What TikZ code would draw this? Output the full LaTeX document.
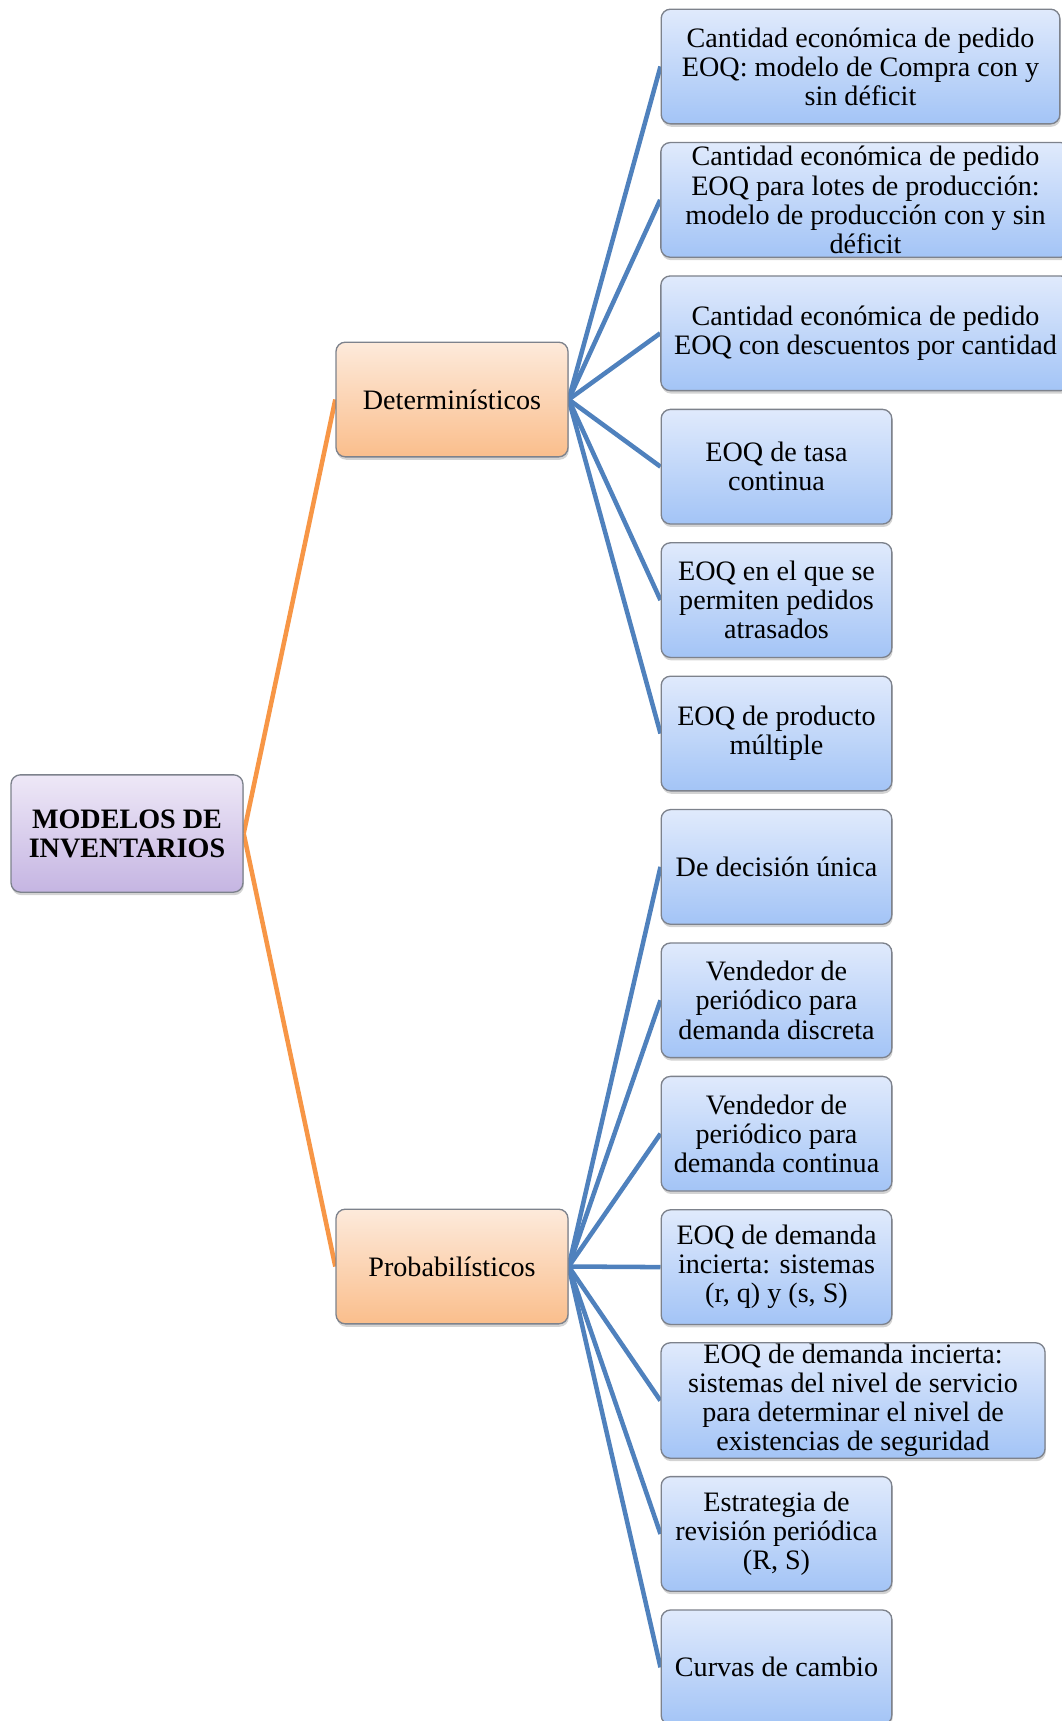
\documentclass[tikz,border=0pt]{standalone}
\usepackage{fontspec}
\setmainfont{Liberation Serif}
\usetikzlibrary{shadows,backgrounds}
\definecolor{leaftop}{RGB}{224,234,252}
\definecolor{leafbot}{RGB}{163,196,246}
\definecolor{orgtop}{RGB}{253,234,219}
\definecolor{orgbot}{RGB}{250,190,140}
\definecolor{purtop}{RGB}{238,232,247}
\definecolor{purbot}{RGB}{197,181,226}
\definecolor{boxline}{RGB}{125,130,140}
\definecolor{bluelink}{RGB}{79,129,189}
\definecolor{orangelink}{RGB}{247,150,70}
\begin{document}
\begin{tikzpicture}[x=0.75pt,y=-0.75pt,
  basebox/.style={draw=boxline, line width=1pt, rounded corners=7pt, align=center,
    inner sep=1pt, font=\fontsize{21.1}{21.8}\selectfont,
    drop shadow={opacity=0.35, shadow xshift=0.6pt, shadow yshift=-2.2pt}},
  leaf/.style={basebox, top color=leaftop, bottom color=leafbot,
    minimum height=86pt, minimum width=#1},
  leaf/.default=173pt,
  mid/.style={basebox, top color=orgtop, bottom color=orgbot,
    minimum height=86pt, minimum width=174pt},
  rootbox/.style={basebox, top color=purtop, bottom color=purbot,
    minimum height=88pt, minimum width=174pt, font=\fontsize{21.1}{21.8}\selectfont\bfseries},
  bluelk/.style={draw=bluelink, line width=3.4pt},
  orangelk/.style={draw=orangelink, line width=3.4pt}
]
\useasboundingbox (0,0) rectangle (1062,1721);

\node[rootbox] (root) at (127,833.5) {MODELOS DE\\INVENTARIOS};
\node[mid] (det) at (452,399.5) {Determinísticos};
\node[mid] (prob) at (452,1266.5) {Probabilísticos};

\node[leaf=299pt] (l1) at (860.5,66.5) {Cantidad económica de pedido\\EOQ: modelo de Compra con y\\sin déficit};
\node[leaf=307pt] (l2) at (865.5,199.9) {Cantidad económica de pedido\\EOQ para lotes de producción:\\modelo de producción con y sin\\déficit};
\node[leaf=307pt] (l3) at (865.5,333.3) {Cantidad económica de pedido\\EOQ con descuentos por cantidad};
\node[leaf] (l4) at (776.5,466.7) {EOQ de tasa\\continua};
\node[leaf] (l5) at (776.5,600.1) {EOQ en el que se\\permiten pedidos\\atrasados};
\node[leaf] (l6) at (776.5,733.5) {EOQ de producto\\múltiple};
\node[leaf] (l7) at (776.5,866.9) {De decisión única};
\node[leaf] (l8) at (776.5,1000.3) {Vendedor de\\periódico para\\demanda discreta};
\node[leaf] (l9) at (776.5,1133.7) {Vendedor de\\periódico para\\demanda continua};
\node[leaf] (l10) at (776.5,1267.1) {EOQ de demanda\\incierta: sistemas\\(r, q) y (s, S)};
\node[leaf=288pt] (l11) at (853,1400.5) {EOQ de demanda incierta:\\sistemas del nivel de servicio\\para determinar el nivel de\\existencias de seguridad};
\node[leaf] (l12) at (776.5,1533.9) {Estrategia de\\revisión periódica\\(R, S)};
\node[leaf] (l13) at (776.5,1667.3) {Curvas de cambio};

\begin{scope}[on background layer]
\draw[orangelk] (root.east) -- (det.west);
\draw[orangelk] (root.east) -- (prob.west);
\foreach \n in {l1,l2,l3,l4,l5,l6} \draw[bluelk] (det.east) -- (\n.west);
\foreach \n in {l7,l8,l9,l10,l11,l12,l13} \draw[bluelk] (prob.east) -- (\n.west);
\end{scope}
\end{tikzpicture}
\end{document}
